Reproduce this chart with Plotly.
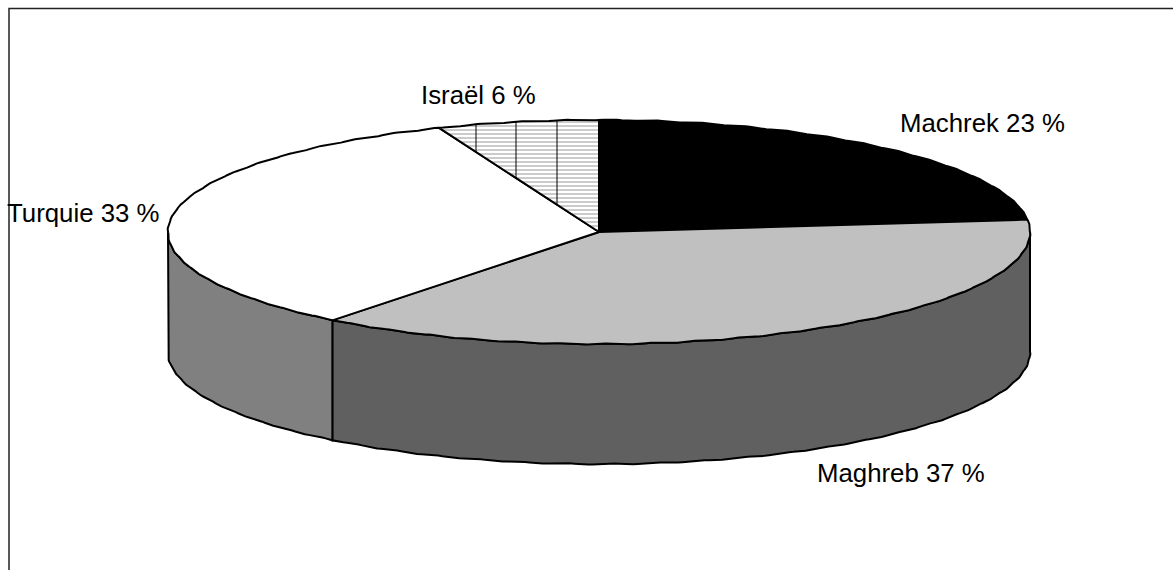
import numpy as np
import plotly.graph_objects as go

# Regional shares, clockwise from twelve o'clock
regions = ["Machrek", "Maghreb", "Turquie", "Israël"]
shares = [23, 37, 33, 6]
label_texts = ["Machrek 23 %", "Maghreb 37 %", "Turquie 33 %", "Israël 6 %"]

# Projection of the tilted disc onto the pixel-based axes
CX, CY, RX, RY, DEPTH = 599, 232, 431, 112, 120
STEP_DEG = 0.6
RIPPLE_PX, RIPPLE_DEG = 0.5, 6.0  # slight wobble of the rim
OUTLINE = "#000000"
LINE_W = 2

top_fill = {"Machrek": "#000000", "Maghreb": "#C0C0C0", "Turquie": "#FFFFFF", "Israël": "#FFFFFF"}
wall_fill = {"Maghreb": "#606060", "Turquie": "#808080"}
label_xy = {
    "Machrek": (982, 123),
    "Maghreb": (901, 473),
    "Turquie": (83, 213),
    "Israël": (478, 95),
}
hatch_x = [476, 516, 557]


def rim(t0, t1):
    n = max(2, int(abs(t1 - t0) / STEP_DEG) + 1)
    deg = np.linspace(t0, t1, n)
    t = np.radians(deg)
    wob = RIPPLE_PX * np.sin(2 * np.pi * deg / RIPPLE_DEG)
    return CX + (RX + wob) * np.sin(t), CY - (RY + wob) * np.cos(t)


total = sum(shares)
edges = np.concatenate([[0], np.cumsum(shares) / total * 360])
spans = {r: (edges[i], edges[i + 1]) for i, r in enumerate(regions)}

fig = go.Figure()

# Side walls for the part of the rim that faces the viewer
for name, fill in wall_fill.items():
    a, b = spans[name]
    a, b = max(a, 90), min(b, 270)
    x, y = rim(a, b)
    fig.add_trace(go.Scatter(
        x=np.concatenate([x, x[::-1], x[:1]]),
        y=np.concatenate([y, y[::-1] + DEPTH, y[:1]]),
        mode="lines", fill="toself", fillcolor=fill,
        line=dict(color=OUTLINE, width=LINE_W), hoverinfo="skip", showlegend=False,
    ))

# Top face, one wedge per region
for name in regions:
    a, b = spans[name]
    x, y = rim(a, b)
    extra = {}
    if name == "Israël":
        extra["fillpattern"] = dict(shape="-", size=4, solidity=0.45, fgcolor="#8C8C8C", bgcolor="#FFFFFF")
    fig.add_trace(go.Scatter(
        x=np.concatenate([[CX], x, [CX]]),
        y=np.concatenate([[CY], y, [CY]]),
        mode="lines", fill="toself", fillcolor=top_fill[name],
        line=dict(color=OUTLINE, width=LINE_W), hoverinfo="skip", showlegend=False,
        **extra,
    ))

# Vertical rules across the Israël wedge, clipped between rim and radial edge
a = np.radians(spans["Israël"][0])
edge_x, edge_y = CX + RX * np.sin(a), CY - RY * np.cos(a)
for hx in hatch_x:
    s = (hx - CX) / (edge_x - CX)
    y_low = CY + s * (edge_y - CY)
    y_top = CY - RY * np.sqrt(1 - ((hx - CX) / RX) ** 2)
    fig.add_trace(go.Scatter(
        x=[hx, hx], y=[y_top, y_low], mode="lines",
        line=dict(color=OUTLINE, width=1), hoverinfo="skip", showlegend=False,
    ))

for name, text in zip(regions, label_texts):
    lx, ly = label_xy[name]
    fig.add_annotation(
        x=lx, y=ly, text=text, showarrow=False, xanchor="center", yanchor="middle",
        font=dict(family="Liberation Sans", size=25.8, color="#000000"),
    )

# Chart frame: only the top and left borders fall inside the page
fig.add_shape(type="path", path="M 9 570 L 9 8.5 L 1173 8.5", xref="x", yref="y",
              line=dict(color="#222222", width=1.5), layer="below")

fig.update_layout(
    width=1173, height=570, margin=dict(l=0, r=0, t=0, b=0),
    paper_bgcolor="#FFFFFF", plot_bgcolor="#FFFFFF", showlegend=False,
    xaxis=dict(range=[0, 1173], visible=False, fixedrange=True),
    yaxis=dict(range=[570, 0], visible=False, fixedrange=True),
)
fig.write_html("out.html", config={"displayModeBar": False})
